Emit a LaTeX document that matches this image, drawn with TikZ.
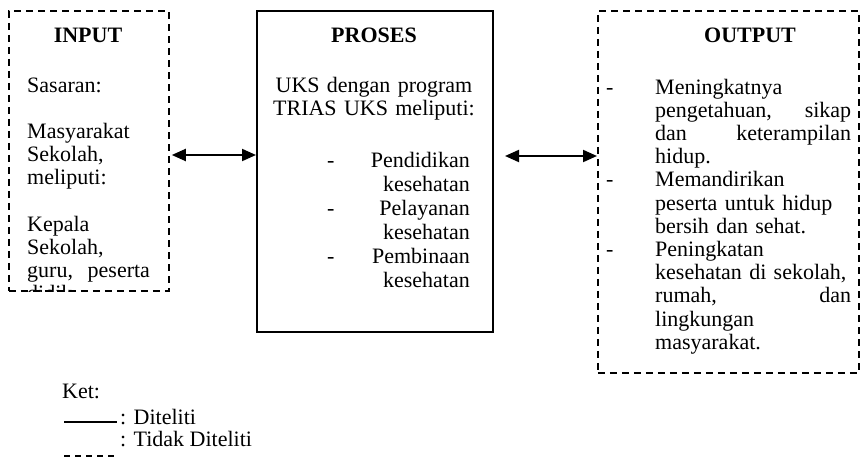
\documentclass[tikz,border=0pt]{standalone}
\usepackage{fontspec}
\setmainfont{Liberation Serif}
\usetikzlibrary{arrows.meta}
\begin{document}
\begin{tikzpicture}[x=1pt,y=-1pt,
  body/.style={font=\fontsize{22}{23.2}\selectfont, inner sep=0pt},
  head/.style={font=\fontsize{22}{23.2}\selectfont\bfseries, inner sep=0pt, anchor=base},
  txt/.style={body, anchor=base west, align=left},
  dashbox/.style={draw, line width=1.8pt, dash pattern=on 7pt off 5pt, inner sep=0pt, anchor=north west},
  solidbox/.style={draw, line width=2pt, inner sep=0pt, anchor=north west},
  dblarrow/.style={line width=2pt, {Triangle[length=14pt,width=12pt]}-{Triangle[length=14pt,width=12pt]}}]
\useasboundingbox (0,0) rectangle (863,458);
% boxes
\node[dashbox, minimum width=160pt, minimum height=280pt] (input) at (8,10) {};
\node[solidbox, minimum width=236pt, minimum height=321pt] (proses) at (256,10) {};
\node[dashbox, minimum width=261pt, minimum height=362pt] (output) at (597,10) {};
% headings
\node[head] (hin) at (88,42) {INPUT};
\node[head] (hpr) at (374,42) {PROSES};
\node[head] (hout) at (750,42) {OUTPUT};
% input text
\begin{scope}
\clip (input.north west) rectangle (input.south east);
\node[txt] (in1) at (27,92) {Sasaran:};
\node[txt, text width=135pt] (in2) at (27,138.4) {Masyarakat\\Sekolah,\\meliputi:};
\node[txt, text width=135pt] (in3) at (27,231.2) {Kepala\\Sekolah,\\guru,\ \ peserta\\didik};
\end{scope}
% proses text
\node[body, anchor=base, align=center, text width=230pt] (p1) at (374,92) {UKS dengan program\\TRIAS UKS meliputi:};
\node[txt] (d1) at (327,167) {-};
\node[txt] (d2) at (327,215) {-};
\node[txt] (d3) at (327,263) {-};
\node[body, anchor=base east, align=right, text width=110pt] (p2) at (470,167) {Pendidikan\\[0.8pt]kesehatan};
\node[body, anchor=base east, align=right, text width=110pt] (p3) at (470,215) {Pelayanan\\[0.8pt]kesehatan};
\node[body, anchor=base east, align=right, text width=110pt] (p4) at (470,263) {Pembinaan\\[0.8pt]kesehatan};
% output text
\node[txt] (o1) at (606,94) {-};
\node[txt] (o2) at (606,186.8) {-};
\node[txt] (o3) at (606,256.4) {-};
\node[txt, text width=196pt] (t1) at (655,94) {Meningkatnya\\pengetahuan,\hfill sikap\\dan\hfill keterampilan\\hidup.};
\node[txt, text width=196pt] (t2) at (655,186.8) {Memandirikan\\peserta untuk hidup\\bersih dan sehat.};
\node[txt, text width=196pt] (t3) at (655,256.4) {Peningkatan\\kesehatan di sekolah,\\rumah,\hfill dan\\lingkungan\\masyarakat.};
% arrows
\coordinate (la) at (0,155);
\coordinate (ra) at (0,156);
\draw[dblarrow] ([xshift=2pt]input.east |- la) -- (proses.west |- la);
\draw[dblarrow] ([xshift=11pt]proses.east |- ra) -- (output.west |- ra);
% legend
\node[txt] (ket) at (62,398) {Ket:};
\coordinate (s1) at (64,422);
\coordinate (s2) at (117,422);
\draw[line width=1.6pt] (s1) -- (s2);
\node[txt] (k1) at (120,424) {: Diteliti};
\node[txt] (k2) at (120,446) {: Tidak Diteliti};
\coordinate (d1a) at (64,456);
\coordinate (d2a) at (117,456);
\draw[line width=1.6pt, dash pattern=on 6pt off 5pt] (d1a) -- (d2a);
\end{tikzpicture}
\end{document}
